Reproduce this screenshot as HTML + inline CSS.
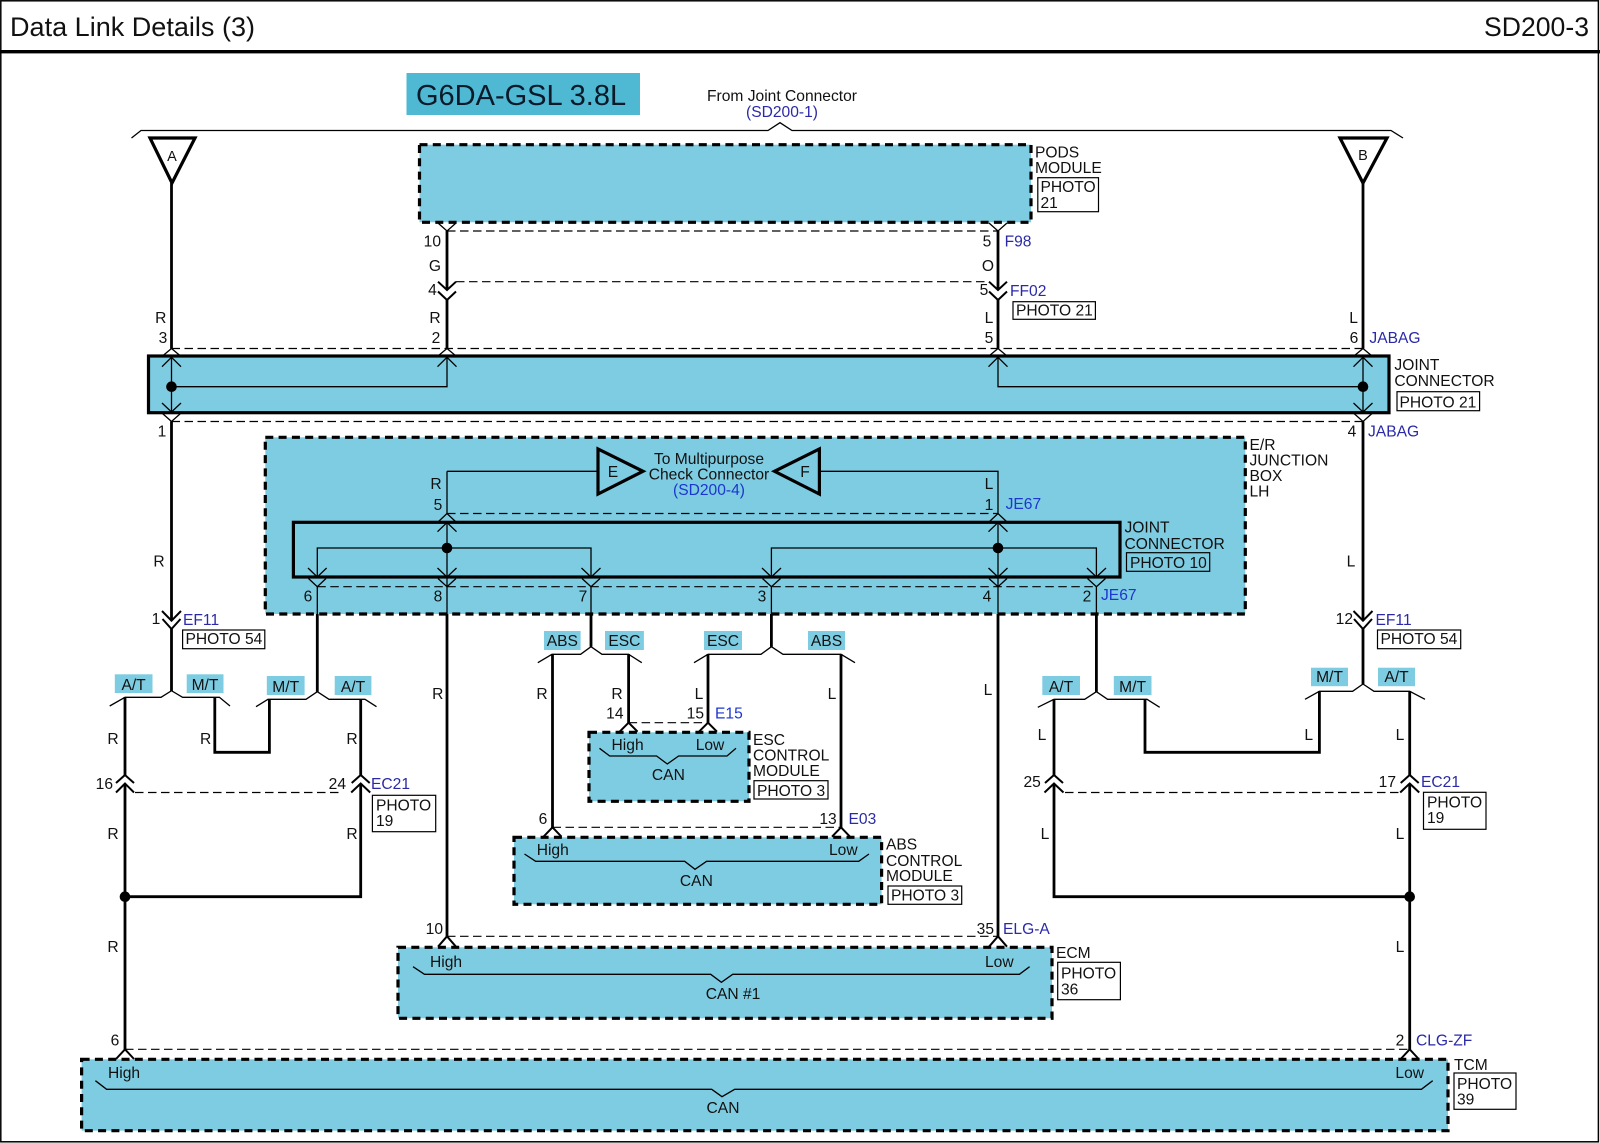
<!DOCTYPE html>
<html><head><meta charset="utf-8"><title>Data Link Details (3)</title>
<style>
html,body{margin:0;padding:0;background:#fff}
svg{display:block}
text{font-family:"Liberation Sans",sans-serif;font-size:15.6px;fill:#111}
.b{fill:#2a2aa8}.c{fill:#1c36cf}
.m{text-anchor:middle}.e{text-anchor:end}
.box{fill:#7ecce2;stroke:#000;stroke-width:3.2;stroke-dasharray:8 5.3}
.sol{fill:#7ecce2;stroke:#000;stroke-width:3.2}
.tag{fill:#7ecce2}
.ph{fill:#fff;stroke:#000;stroke-width:1.2}
.ph2{fill:none;stroke:#000;stroke-width:1.2}
.w{fill:none;stroke:#000;stroke-width:2.8}
.t{fill:none;stroke:#000;stroke-width:1.3}
.d{fill:none;stroke:#000;stroke-width:1.2;stroke-dasharray:8.5 4.5}
.tri{fill:#fff;stroke:#000;stroke-width:3.2}
.tri2{fill:#7ecce2;stroke:#000;stroke-width:3.2}
</style></head><body>
<svg xmlns="http://www.w3.org/2000/svg" width="1600" height="1143" viewBox="0 0 1600 1143">
<rect x="0" y="0" width="1600" height="1143" fill="#fff"/>
<rect x="0.8" y="0.8" width="1597.6" height="1141" fill="none" stroke="#000" stroke-width="1.5"/>
<rect x="0" y="50" width="1600" height="3.4" fill="#000"/>
<text x="10" y="36" style="font-size:27.05px">Data Link Details (3)</text>
<text x="1589" y="36" class="e" style="font-size:26.6px">SD200-3</text>
<rect x="406.5" y="73" width="233.5" height="42" fill="#4fb8d3"/>
<text x="416" y="105" style="font-size:29px;fill:#0a1a2a">G6DA-GSL 3.8L</text>
<text x="782" y="101" class="m">From Joint Connector</text>
<text x="782" y="117" class="m b">(SD200-1)</text>
<path class="t" d="M131.5 138L141 130.5H768L780 122.7L792 130.5H1391L1403 138"/>

<!-- modules -->
<rect class="box" x="419.5" y="144.7" width="611.5" height="77.6"/>
<rect class="sol" x="148.5" y="356" width="1240.5" height="56.7"/>
<rect class="box" x="265.3" y="437.3" width="980" height="176.7"/>
<rect class="sol" x="293.4" y="522.3" width="826.6" height="54.7"/>
<rect class="box" x="589" y="732.3" width="160" height="69"/>
<rect class="box" x="514" y="837.3" width="367.6" height="67"/>
<rect class="box" x="398" y="947.3" width="654" height="71"/>
<rect class="box" x="81.6" y="1059.3" width="1366.4" height="71.4"/>

<!-- off-page triangles -->
<path class="tri" d="M150 138H195L172 183Z"/>
<path class="tri" d="M1340 138H1387L1363 183Z"/>
<text x="172" y="161" class="m" style="font-size:14.5px">A</text>
<text x="1363" y="160" class="m" style="font-size:14.5px">B</text>

<!-- thick wires -->
<path class="w" d="M171.5 183V348.5"/>
<path class="w" d="M1363 183V348.5"/>
<path class="w" d="M447 231V290M447 300V348.5"/>
<path class="w" d="M998 231V290M998 300V348.5"/>
<path class="w" d="M171.5 421.5V620.7M171.5 629V691"/>
<path class="w" d="M1363 421.5V620.7M1363 629V684"/>
<path class="w" d="M125 697V775M125 783.5V1049.5"/>
<path class="w" d="M125 896.7H360.7V783.5M360.7 699V775"/>
<path class="w" d="M214.8 697V752.3H269.4V699"/>
<path class="w" d="M317.3 614V691.7"/>
<path class="w" d="M447 614V936.5"/>
<path class="w" d="M591 614V646.7"/>
<path class="w" d="M771.4 614V646.7"/>
<path class="w" d="M998 614V936.5"/>
<path class="w" d="M1096.4 614V691.7"/>
<path class="w" d="M552.5 654V827.5"/>
<path class="w" d="M628.6 654V723"/>
<path class="w" d="M708 654V723"/>
<path class="w" d="M841 654V827.5"/>
<path class="w" d="M1054 699V775M1054 783.5V896.7H1409.7"/>
<path class="w" d="M1145 699V752.3H1319.4V691"/>
<path class="w" d="M1409.7 691V775M1409.7 783.5V1049.5"/>

<!-- thin wires inside joint connectors -->
<path class="t" d="M171.5 357V412M1363 357V412M171.5 386.7H447V357M998 357V386.7H1363"/>
<path class="t" d="M447 471.3V513.5H447M447 471.3H598M998 513.5V471.3H819"/>
<path class="t" d="M447 522.5V614M998 522.5V614"/>
<path class="t" d="M317.3 577V548H591V577M771.4 577V548H1096.4V577"/>
<path class="t" d="M317.3 587V614M591 587V614M771.4 587V614M1096.4 587V614"/>

<!-- dashed connector lines -->
<path class="d" d="M447 231H998"/>
<path class="d" d="M456 281.7H989"/>
<path class="d" d="M171.5 348.5H1363"/>
<path class="d" d="M171.5 421.5H1363"/>
<path class="d" d="M447 513.5H998"/>
<path class="d" d="M317.3 586.7H1096.4"/>
<path class="d" d="M135 792.5H342"/>
<path class="d" d="M1065 792.5H1399.5"/>
<path class="d" d="M628.6 722.7H708"/>
<path class="d" d="M552.5 827.3H841"/>
<path class="d" d="M447 936.3H998"/>
<path class="d" d="M125 1049.3H1409.7"/>

<!-- chevrons -->
<path class="t" d="M438 223L447 231L456 223M989 223L998 231L1007 223"/>
<path class="t" d="M438 281.7L447 290L456 281.7M438 291.5L447 300L456 291.5M989 281.7L998 290L1007 281.7M989 291.5L998 300L1007 291.5" style="stroke-width:2"/>
<path class="t" d="M162.5 356L171.5 348.5L180.5 356M438 356L447 348.5L456 356M989 356L998 348.5L1007 356M1354 356L1363 348.5L1372 356"/>
<path class="t" d="M162 366.7L171.5 357.3L181 366.7M437.5 366.7L447 357.3L456.5 366.7M988.5 366.7L998 357.3L1007.5 366.7M1353.5 366.7L1363 357.3L1372.5 366.7"/>
<path class="t" d="M162 403L171.5 412L181 403M1353.5 403L1363 412L1372.5 403"/>
<path class="t" d="M162.5 413.5L171.5 421.5L180.5 413.5M1354 413.5L1363 421.5L1372 413.5"/>
<path class="t" d="M162 611L171.5 620.7L181 611M162.5 619L171.5 629L180.5 619M1353.5 611L1363 620.7L1372.5 611M1354 619L1363 629L1372 619" style="stroke-width:2"/>
<path class="t" d="M438 522L447 513.5L456 522M989 522L998 513.5L1007 522M437.5 531.7L447 522.5L456.5 531.7M988.5 531.7L998 522.5L1007.5 531.7"/>
<path class="t" d="M308 568L317.3 577L326.6 568M437.5 568L447 577L456.5 568M581.5 568L591 577L600.5 568M762 568L771.4 577L781 568M988.5 568L998 577L1007.5 568M1087 568L1096.4 577L1106 568"/>
<path class="t" d="M308.5 578.5L317.3 586.7L326 578.5M438 578.5L447 586.7L456 578.5M582 578.5L591 586.7L600 578.5M762.5 578.5L771.4 586.7L780.5 578.5M989 578.5L998 586.7L1007 578.5M1087.5 578.5L1096.4 586.7L1105.5 578.5"/>
<path class="t" d="M116 783L125 775L134 783M116 792.5L125 783.5L134 792.5M351.7 783L360.7 775L369.7 783M351.2 792.5L360.7 783.5L370.2 792.5M1045 783L1054 775L1063 783M1044.5 792.5L1054 783.5L1063.5 792.5M1400.7 783L1409.7 775L1418.7 783M1400.2 792.5L1409.7 783.5L1419.2 792.5" style="stroke-width:2"/>
<path class="t" d="M619.6 731.7L628.6 722.7L637.6 731.7M699 731.7L708 722.7L717 731.7M543.5 836.7L552.5 827.3L561.5 836.7M832 836.7L841 827.3L850 836.7M438 946.7L447 936.3L456 946.7M989 946.7L998 936.3L1007 946.7M116 1059L125 1049.3L134 1059M1400.7 1059L1409.7 1049.3L1418.7 1059" style="stroke-width:2"/>

<!-- splice branches -->
<path class="t" d="M109.7 706L125 697.3H161L171.5 690.7L182.6 697.3H219.4L230 706"/>
<path class="t" d="M256 706.7L268 699.3H306L317.3 691.7L329 699.3H365L376.5 706.7"/>
<path class="t" d="M537.8 662.7L552 654.3H580.6L591 646.7L602 654.3H628.6L641.8 662.7"/>
<path class="t" d="M694 662.7L708 654.3H761L771.4 646.7L783 654.3H841L855 662.7"/>
<path class="t" d="M1037.8 707.3L1054 699.3H1084.7L1096.4 691.7L1107.6 699.3H1147L1159.7 707.3"/>
<path class="t" d="M1305 699.3L1319.4 691.3H1352.6L1363 684L1374 691.3H1409.7L1425 699.3"/>

<!-- braces -->
<path class="t" d="M599.5 748.3L609.7 756H656.6L667.3 764L678.6 756H727L736 748.3"/>
<path class="t" d="M524.5 854L535.7 861.3H684.7L695 869.3L706.6 861.3H858.7L869 854"/>
<path class="t" d="M413 966.7L424.5 974.3H710.7L721.4 982.3L732.7 974.3H1019.4L1029.6 966.7"/>
<path class="t" d="M95.4 1080.7L106.6 1089.3H711.7L722 1096.7L734.7 1089.3H1421.4L1432.7 1080.7"/>

<!-- dots -->
<circle cx="171.5" cy="386.7" r="5.3"/><circle cx="1363" cy="386.7" r="5.3"/>
<circle cx="447" cy="548" r="5.3"/><circle cx="998" cy="548" r="5.3"/>
<circle cx="125" cy="896.7" r="5.3"/><circle cx="1409.7" cy="896.7" r="5.3"/>

<!-- E/F -->
<path class="tri2" d="M598 449V494L643 471.3Z"/>
<path class="tri2" d="M819.4 449V494L774.5 471.3Z"/>
<text x="613" y="477" class="m">E</text><text x="805" y="477" class="m">F</text>
<text x="709" y="464" class="m">To Multipurpose</text>
<text x="709" y="479.5" class="m">Check Connector</text>
<text x="709" y="495" class="m c">(SD200-4)</text>

<!-- tags -->
<rect class="tag" x="114.8" y="674.3" width="37.7" height="18.7"/><text x="133.6" y="690" class="m">A/T</text>
<rect class="tag" x="186.7" y="674.3" width="36.8" height="18.7"/><text x="205" y="690" class="m">M/T</text>
<rect class="tag" x="266.8" y="676" width="37.8" height="19"/><text x="285.7" y="692" class="m">M/T</text>
<rect class="tag" x="334.7" y="676" width="36.7" height="19"/><text x="353" y="692" class="m">A/T</text>
<rect class="tag" x="544" y="631" width="36.6" height="19"/><text x="562.3" y="646" class="m">ABS</text>
<rect class="tag" x="605" y="631" width="38.9" height="19"/><text x="624.4" y="646" class="m">ESC</text>
<rect class="tag" x="704" y="631" width="38" height="19"/><text x="723" y="646" class="m">ESC</text>
<rect class="tag" x="808" y="631" width="37" height="19"/><text x="826.5" y="646" class="m">ABS</text>
<rect class="tag" x="1042.3" y="676" width="37.7" height="19"/><text x="1061" y="692" class="m">A/T</text>
<rect class="tag" x="1113.8" y="676" width="37.7" height="19"/><text x="1132.6" y="692" class="m">M/T</text>
<rect class="tag" x="1311" y="667.7" width="37" height="18.5"/><text x="1329.5" y="682" class="m">M/T</text>
<rect class="tag" x="1378" y="667.7" width="37" height="18.5"/><text x="1396.5" y="682" class="m">A/T</text>

<!-- photo boxes -->
<rect class="ph" x="1037.8" y="177.7" width="60.7" height="34"/><text x="1040.5" y="192">PHOTO</text><text x="1040.5" y="208">21</text>
<rect class="ph" x="1013" y="301.7" width="82.4" height="17.6"/><text x="1016" y="315.3">PHOTO 21</text>
<rect class="ph" x="1397" y="391.7" width="82.6" height="19"/><text x="1399.5" y="407.3">PHOTO 21</text>
<rect class="ph2" x="1126.5" y="552.7" width="83.2" height="18.6"/><text x="1130" y="568">PHOTO 10</text>
<rect class="ph" x="182.6" y="630" width="82.2" height="18.7"/><text x="185.5" y="644">PHOTO 54</text>
<rect class="ph" x="1377.5" y="630" width="83.2" height="18.7"/><text x="1380.5" y="644">PHOTO 54</text>
<rect class="ph" x="372.4" y="795.3" width="63.3" height="36.4"/><text x="376" y="810.7">PHOTO</text><text x="376" y="826">19</text>
<rect class="ph" x="1423.5" y="792.3" width="62.5" height="37"/><text x="1427" y="807.3">PHOTO</text><text x="1427" y="823">19</text>
<rect class="ph" x="754" y="780.7" width="74" height="18.3"/><text x="757" y="796">PHOTO 3</text>
<rect class="ph" x="888" y="886" width="73.7" height="18.3"/><text x="891" y="900.7">PHOTO 3</text>
<rect class="ph" x="1057.7" y="962.3" width="62.7" height="37.4"/><text x="1061" y="978.3">PHOTO</text><text x="1061" y="994.3">36</text>
<rect class="ph" x="1454" y="1073" width="62" height="36.3"/><text x="1457" y="1089">PHOTO</text><text x="1457" y="1104.5">39</text>

<!-- module names -->
<text x="1035" y="157.3">PODS</text><text x="1035" y="173">MODULE</text>
<text x="1394.4" y="370">JOINT</text><text x="1394.4" y="386">CONNECTOR</text>
<text x="1249.5" y="450">E/R</text><text x="1249.5" y="465.7">JUNCTION</text><text x="1249.5" y="481">BOX</text><text x="1249.5" y="496.7">LH</text>
<text x="1124.5" y="532.7">JOINT</text><text x="1124.5" y="549">CONNECTOR</text>
<text x="753" y="745">ESC</text><text x="753" y="760.7">CONTROL</text><text x="753" y="776">MODULE</text>
<text x="886" y="849.3">ABS</text><text x="886" y="866">CONTROL</text><text x="886" y="881">MODULE</text>
<text x="1056" y="958">ECM</text>
<text x="1454" y="1070">TCM</text>

<!-- in-module text -->
<text x="627.6" y="750" class="m">High</text><text x="710" y="750" class="m">Low</text><text x="668.4" y="780" class="m">CAN</text>
<text x="536.7" y="855">High</text><text x="829" y="855">Low</text><text x="696.4" y="886" class="m">CAN</text>
<text x="430" y="967">High</text><text x="985" y="967">Low</text><text x="733" y="999" class="m">CAN #1</text>
<text x="108" y="1078">High</text><text x="1395.4" y="1078">Low</text><text x="723" y="1113" class="m">CAN</text>

<!-- pin numbers & wire colours -->
<text x="441" y="246.7" class="e">10</text><text x="435" y="271" class="m">G</text><text x="432.5" y="295" class="m">4</text><text x="435" y="323" class="m">R</text><text x="436" y="343" class="m">2</text>
<text x="987" y="246.7" class="m">5</text><text x="988" y="271" class="m">O</text><text x="984" y="295" class="m">5</text><text x="989" y="323" class="m">L</text><text x="989" y="343" class="m">5</text>
<text x="160.7" y="323" class="m">R</text><text x="163" y="343" class="m">3</text><text x="162" y="436.7" class="m">1</text><text x="159" y="566.7" class="m">R</text><text x="156" y="624" class="m">1</text>
<text x="1353.6" y="323" class="m">L</text><text x="1354" y="343" class="m">6</text><text x="1352" y="436.5" class="m">4</text><text x="1351" y="566.7" class="m">L</text><text x="1353" y="624" class="e">12</text>
<text x="436" y="489" class="m">R</text><text x="438" y="510" class="m">5</text><text x="989" y="489" class="m">L</text><text x="989" y="510" class="m">1</text>
<text x="308" y="601.7" class="m">6</text><text x="438" y="601.7" class="m">8</text><text x="583" y="601.7" class="m">7</text><text x="762" y="601.7" class="m">3</text><text x="987" y="601.7" class="m">4</text><text x="1087" y="601.7" class="m">2</text>
<text x="113" y="744" class="m">R</text><text x="205.6" y="744" class="m">R</text><text x="352" y="744" class="m">R</text>
<text x="113" y="789" class="e">16</text><text x="346" y="789" class="e">24</text>
<text x="113" y="839" class="m">R</text><text x="352" y="839" class="m">R</text><text x="113" y="952" class="m">R</text><text x="115" y="1045.7" class="m">6</text>
<text x="437.7" y="699" class="m">R</text><text x="988" y="695" class="m">L</text>
<text x="542" y="699" class="m">R</text><text x="617" y="699" class="m">R</text><text x="699" y="699" class="m">L</text><text x="832" y="699" class="m">L</text>
<text x="623.5" y="718.7" class="e">14</text><text x="704" y="718.7" class="e">15</text>
<text x="543" y="824" class="m">6</text><text x="836.7" y="824" class="e">13</text>
<text x="443" y="934" class="e">10</text><text x="994" y="934" class="e">35</text>
<text x="1042" y="740" class="m">L</text><text x="1308.7" y="740" class="m">L</text><text x="1400" y="740" class="m">L</text>
<text x="1040.8" y="787" class="e">25</text><text x="1396" y="787" class="e">17</text>
<text x="1045" y="839" class="m">L</text><text x="1400" y="839" class="m">L</text><text x="1400" y="952" class="m">L</text><text x="1400" y="1045.7" class="m">2</text>

<!-- connector ids -->
<text x="1004.6" y="246.7" class="b">F98</text>
<text x="1010" y="296" class="b">FF02</text>
<text x="1369.4" y="343" class="b">JABAG</text>
<text x="1368" y="436.7" class="b">JABAG</text>
<text x="1005.6" y="509" class="c">JE67</text>
<text x="1101" y="600" class="c">JE67</text>
<text x="183" y="625" class="b">EF11</text>
<text x="1375.5" y="625" class="b">EF11</text>
<text x="371" y="789" class="b">EC21</text>
<text x="1421" y="787" class="b">EC21</text>
<text x="715" y="718.7" class="c">E15</text>
<text x="848.5" y="824" class="b">E03</text>
<text x="1003" y="934" class="b">ELG-A</text>
<text x="1416" y="1045.7" class="b">CLG-ZF</text>
</svg>
</body></html>
